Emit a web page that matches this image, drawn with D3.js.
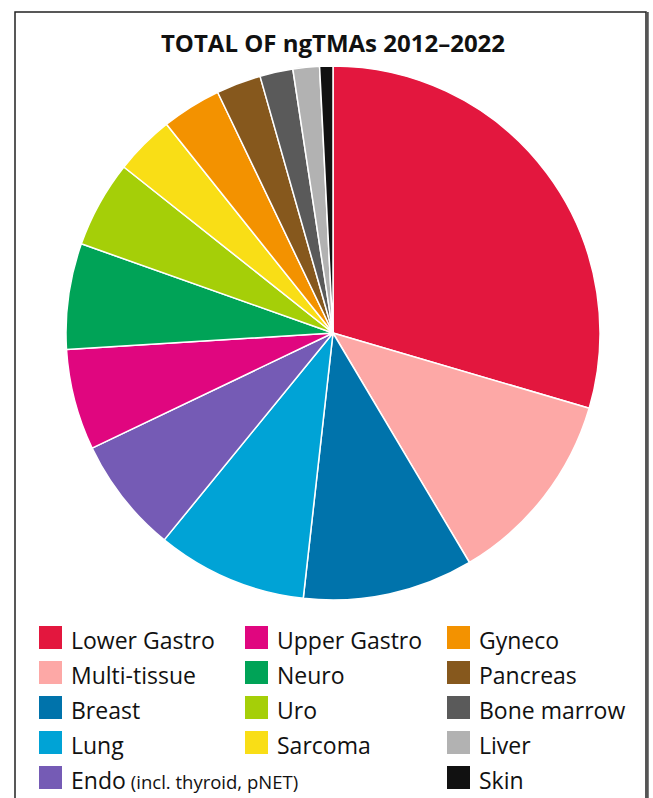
<!DOCTYPE html>
<html lang="en">
<head>
    <meta charset="UTF-8">
    <title>TOTAL OF ngTMAs 2012–2022</title>
    <script src="https://d3js.org/d3.v7.min.js"></script>
    <style>
        body { margin: 0; background: #fff; font-family: "Open Sans", Arial, sans-serif; }
    </style>
</head>
<body>
    <script>
        // Slices, clockwise from 12 o'clock (share of total, %)
        const categories = ["Lower Gastro", "Multi-tissue", "Breast", "Lung", "Endo",
                            "Upper Gastro", "Neuro", "Uro", "Sarcoma", "Gyneco",
                            "Pancreas", "Bone marrow", "Liver", "Skin"];
        const values = [29.5, 11.9, 10.3, 9.1, 7.0, 6.1, 6.4, 5.25, 3.6, 3.6, 2.7, 2.0, 1.6, 0.8];
        const colors = ["#e3173e", "#fda8a6", "#0073ab", "#00a3d6", "#755bb5",
                        "#e0067f", "#00a357", "#a5cf08", "#f9de16", "#f39200",
                        "#86581d", "#5a5a5a", "#b2b2b2", "#111111"];

        // Legend layout: columns of category names
        const legendColumns = [
            ["Lower Gastro", "Multi-tissue", "Breast", "Lung", "Endo"],
            ["Upper Gastro", "Neuro", "Uro", "Sarcoma"],
            ["Gyneco", "Pancreas", "Bone marrow", "Liver", "Skin"]
        ];
        const legendNotes = { "Endo": "(incl. thyroid, pNET)" };

        const width = 653, height = 798;
        const cx = 333, cy = 333, radius = 267;

        const svg = d3.select("body").append("svg")
            .attr("width", width)
            .attr("height", height);

        // Frame
        svg.append("rect")
            .attr("x", 15).attr("y", 12)
            .attr("width", 631).attr("height", 820)
            .attr("fill", "none")
            .attr("stroke", "#222")
            .attr("stroke-width", 1.5);
        svg.append("line")
            .attr("x1", 647.5).attr("x2", 647.5)
            .attr("y1", 12).attr("y2", height)
            .attr("stroke", "#555")
            .attr("stroke-width", 2.5);

        // Title
        svg.append("text")
            .attr("x", cx)
            .attr("y", 52)
            .attr("text-anchor", "middle")
            .style("font-weight", "bold")
            .style("font-size", "24px")
            .style("fill", "#111")
            .text("TOTAL OF ngTMAs 2012–2022");

        const color = d3.scaleOrdinal().domain(categories).range(colors);

        const pie = d3.pie()
            .value(d => d.value)
            .sort(null);

        const arc = d3.arc()
            .innerRadius(0)
            .outerRadius(radius);

        const data = categories.map((c, i) => ({ name: c, value: values[i] }));

        svg.append("g")
            .attr("transform", `translate(${cx},${cy})`)
            .selectAll("path")
            .data(pie(data))
            .join("path")
            .attr("d", arc)
            .attr("fill", d => color(d.data.name))
            .attr("stroke", "#fff")
            .attr("stroke-width", 1.5)
            .attr("stroke-linejoin", "round");

        // Legend
        const colX = [39, 245, 447];
        const rowY = d3.scaleLinear().domain([0, 1]).range([626, 661]);
        const legend = svg.append("g");

        legendColumns.forEach((col, ci) => {
            col.forEach((name, ri) => {
                const g = legend.append("g")
                    .attr("transform", `translate(${colX[ci]},${rowY(ri)})`);
                g.append("rect")
                    .attr("width", 23)
                    .attr("height", 23)
                    .attr("fill", color(name));
                const t = g.append("text")
                    .attr("x", 32)
                    .attr("y", 23)
                    .style("font-size", "23px")
                    .style("fill", "#111");
                t.append("tspan").text(name);
                if (legendNotes[name]) {
                    t.append("tspan")
                        .attr("dx", 5)
                        .style("font-size", "18.5px")
                        .text(legendNotes[name]);
                }
            });
        });
    </script>
</body>
</html>
